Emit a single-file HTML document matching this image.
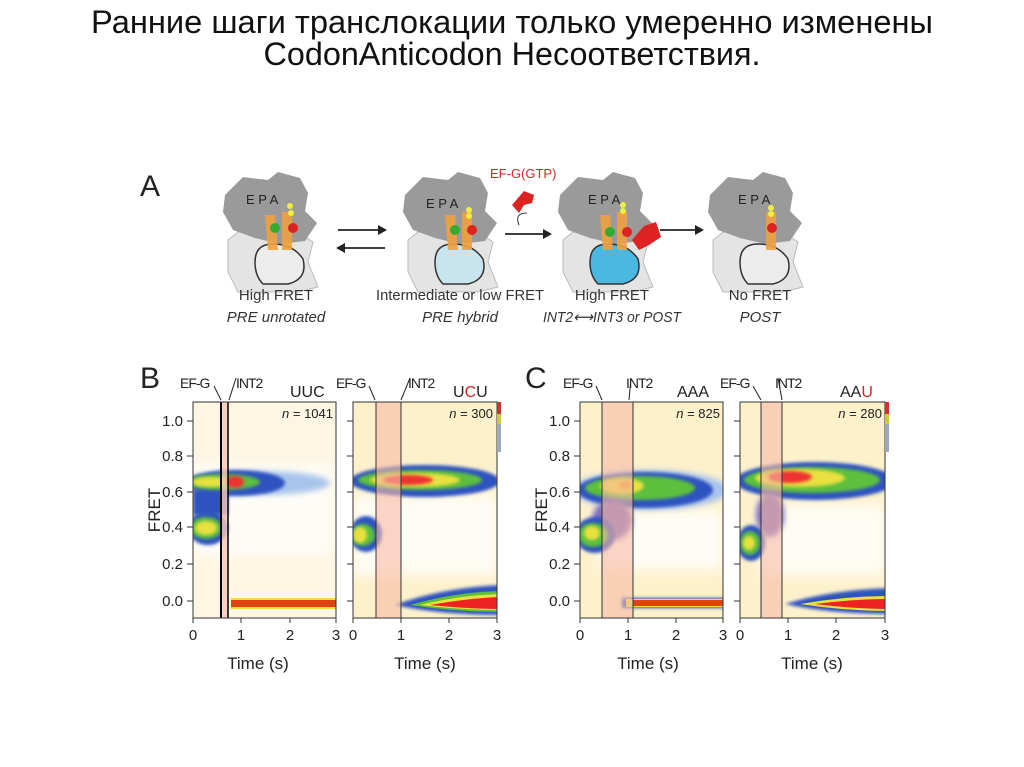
<!DOCTYPE html>
<html><head><meta charset="utf-8"><style>
body{margin:0;background:#fff;width:1024px;height:767px;overflow:hidden;font-family:"Liberation Sans",sans-serif}
</style></head><body>
<svg width="1024" height="767" style="position:absolute;left:0;top:0" font-family="Liberation Sans, sans-serif">
<defs>
<filter id="b" x="-50%" y="-50%" width="200%" height="200%"><feGaussianBlur stdDeviation="3"/></filter>
<filter id="b2" x="-50%" y="-50%" width="200%" height="200%"><feGaussianBlur stdDeviation="1.5"/></filter>
<filter id="b3" x="-50%" y="-50%" width="200%" height="200%"><feGaussianBlur stdDeviation="6"/></filter>
<clipPath id="c1"><rect x="193" y="402" width="143" height="216"/></clipPath>
<clipPath id="c2"><rect x="353" y="402" width="144" height="216"/></clipPath>
<clipPath id="c3"><rect x="580" y="402" width="143" height="216"/></clipPath>
<clipPath id="c4"><rect x="740" y="402" width="145" height="216"/></clipPath>
</defs>
<text x="512" y="33" font-size="32" fill="#111" text-anchor="middle" textLength="842" lengthAdjust="spacingAndGlyphs">Ранние шаги транслокации только умеренно изменены</text>
<text x="512" y="65" font-size="32" fill="#111" text-anchor="middle" textLength="497" lengthAdjust="spacingAndGlyphs">CodonAnticodon Несоответствия.</text>

<text x="140" y="196" font-size="30" fill="#222">A</text>
<g fill="#e4e4e4" stroke="#bbb">
<path d="M228 240 l10 -8 60 0 15 10 -5 20 10 25 -20 5 -60 0 -10 -20z"/>
<path d="M408 240 l10 -8 60 0 15 10 -5 20 10 25 -20 5 -60 0 -10 -20z"/>
<path d="M563 240 l10 -8 60 0 15 10 -5 20 10 25 -20 5 -60 0 -10 -20z"/>
<path d="M713 240 l10 -8 60 0 15 10 -5 20 10 25 -20 5 -60 0 -10 -20z"/>
</g>
<g fill="#9a9a9a">
<path d="M225 195 l18 -18 25 3 10 -8 22 6 8 15 -3 18 12 12 -12 18 -25 3 -25 -6 -22 -8 -10 -18z"/>
<path d="M405 195 l18 -18 25 3 10 -8 22 6 8 15 -3 18 12 12 -12 18 -25 3 -25 -6 -22 -8 -10 -18z"/>
<path d="M560 195 l18 -18 25 3 10 -8 22 6 8 15 -3 18 12 12 -12 18 -25 3 -25 -6 -22 -8 -10 -18z"/>
<path d="M710 195 l18 -18 25 3 10 -8 22 6 8 15 -3 18 12 12 -12 18 -25 3 -25 -6 -22 -8 -10 -18z"/>
</g>
<g stroke="#333" stroke-width="1.5">
<path d="M255 262 q0 -18 18 -18 q20 0 30 15 q5 20 -15 25 l-25 0 q-8 -8 -8 -22z" fill="#ececec"/>
<path d="M435 262 q0 -18 18 -18 q20 0 30 15 q5 20 -15 25 l-25 0 q-8 -8 -8 -22z" fill="#c8e4ee"/>
<path d="M590 262 q0 -18 18 -18 q20 0 30 15 q5 20 -15 25 l-25 0 q-8 -8 -8 -22z" fill="#4ab8e0"/>
<path d="M740 262 q0 -18 18 -18 q20 0 30 15 q5 20 -15 25 l-25 0 q-8 -8 -8 -22z" fill="#ececec"/>
</g>
<g fill="#f0a040" opacity=".9"><path d="M265 215 l10 0 3 35 -10 0z"/><path d="M282 212 l10 0 0 38 -10 0z"/><path d="M445 215 l10 0 3 35 -10 0z"/><path d="M462 212 l10 0 0 38 -10 0z"/><path d="M600 215 l10 0 3 35 -10 0z"/><path d="M617 212 l10 0 0 38 -10 0z"/><path d="M766 212 l10 0 0 38 -10 0z"/></g>
<g fill="#3a3"><circle cx="275" cy="228" r="5"/><circle cx="455" cy="230" r="5"/><circle cx="610" cy="232" r="5"/></g>
<g fill="#d22"><circle cx="293" cy="228" r="5"/><circle cx="472" cy="230" r="5"/><circle cx="627" cy="232" r="5"/><circle cx="772" cy="228" r="5"/><path d="M632 240 l12 -14 12 -4 5 15 -12 8 -10 5z"/><path d="M512 205 l12 -14 10 4 -2 8 -8 2 -5 8z"/></g>
<g fill="#ee4"><circle cx="290" cy="206" r="3"/><circle cx="291" cy="213" r="3"/><circle cx="469" cy="210" r="3"/><circle cx="469" cy="216" r="3"/><circle cx="623" cy="205" r="3"/><circle cx="623" cy="211" r="3"/><circle cx="771" cy="208" r="3"/><circle cx="771" cy="214" r="3"/></g>
<g font-size="13" fill="#222"><text x="246" y="204">E  P  A</text><text x="426" y="208">E  P  A</text><text x="588" y="204">E  P  A</text><text x="738" y="204">E  P  A</text></g>
<text x="490" y="178" font-size="13" fill="#d22">EF-G(GTP)</text>
<path d="M519 225 q-5 -12 8 -12" fill="none" stroke="#333"/>
<g stroke="#222" stroke-width="1.8"><line x1="338" y1="230" x2="385" y2="230"/><line x1="338" y1="248" x2="385" y2="248"/><line x1="505" y1="234" x2="550" y2="234"/><line x1="660" y1="230" x2="702" y2="230"/></g>
<g fill="#222"><path d="M387 230 l-9 -5 0 10z"/><path d="M336 248 l9 -5 0 10z"/><path d="M552 234 l-9 -5 0 10z"/><path d="M704 230 l-9 -5 0 10z"/></g>
<g font-size="15" fill="#333" text-anchor="middle"><text x="276" y="300">High FRET</text><text x="460" y="300" textLength="168" lengthAdjust="spacingAndGlyphs">Intermediate or low FRET</text><text x="612" y="300">High FRET</text><text x="760" y="300">No FRET</text>
<g font-style="italic"><text x="276" y="322">PRE unrotated</text><text x="460" y="322">PRE hybrid</text><text x="612" y="322" textLength="138" lengthAdjust="spacingAndGlyphs">INT2⟷INT3 or POST</text><text x="760" y="322">POST</text></g></g>
<text x="140" y="388" font-size="30" fill="#222">B</text><text x="525" y="388" font-size="30" fill="#222">C</text>

<!-- B1 -->
<rect x="193" y="402" width="143" height="216" fill="#fdf6e2"/>
<g clip-path="url(#c1)">
<rect x="193" y="465" width="140" height="90" fill="#fff" opacity=".7" filter="url(#b3)"/>
<ellipse cx="260" cy="483" rx="70" ry="12" fill="#a8c4ec" filter="url(#b)"/>
<ellipse cx="235" cy="483" rx="50" ry="13" fill="#2d52c0" filter="url(#b2)"/>
<rect x="193" y="490" width="35" height="25" fill="#2d52c0" filter="url(#b2)"/>
<ellipse cx="222" cy="482" rx="38" ry="8" fill="#5bbf3c" filter="url(#b2)"/>
<ellipse cx="210" cy="482" rx="18" ry="5" fill="#e8e040" filter="url(#b2)"/>
<ellipse cx="235" cy="482" rx="9" ry="6" fill="#e33" filter="url(#b2)"/>
<ellipse cx="208" cy="528" rx="20" ry="17" fill="#2d52c0" filter="url(#b2)"/>
<ellipse cx="206" cy="528" rx="16" ry="11" fill="#5bbf3c" filter="url(#b2)"/>
<ellipse cx="206" cy="528" rx="11" ry="7" fill="#e8e040" filter="url(#b2)"/>
<rect x="231" y="598" width="110" height="11" fill="#e8e040"/><rect x="231" y="600" width="110" height="7" fill="#d41"/>
<rect x="221" y="402" width="7" height="216" fill="#f6c7b8" opacity=".8"/>
</g>
<line x1="221" y1="402" x2="221" y2="618" stroke="#000" stroke-width="2"/><line x1="228" y1="402" x2="228" y2="618" stroke="#000" stroke-width="1.5"/>
<rect x="193" y="402" width="143" height="216" fill="none" stroke="#333"/>

<!-- B2 -->
<rect x="353" y="402" width="144" height="216" fill="#fdf1cc"/>
<g clip-path="url(#c2)">
<rect x="353" y="495" width="144" height="80" fill="#fff" opacity=".8" filter="url(#b3)"/>
<ellipse cx="425" cy="481" rx="75" ry="16" fill="#2d52c0" filter="url(#b2)"/>
<ellipse cx="420" cy="480" rx="62" ry="10" fill="#5bbf3c" filter="url(#b2)"/>
<ellipse cx="415" cy="480" rx="45" ry="7" fill="#e8e040" filter="url(#b2)"/>
<ellipse cx="408" cy="480" rx="25" ry="5" fill="#e33" filter="url(#b2)"/>
<ellipse cx="366" cy="534" rx="16" ry="18" fill="#2d52c0" filter="url(#b2)"/>
<ellipse cx="363" cy="535" rx="12" ry="11" fill="#5bbf3c" filter="url(#b2)"/>
<ellipse cx="360" cy="535" rx="7" ry="8" fill="#e8e040" filter="url(#b2)"/>
<path d="M395 605 Q440 588 500 585 L500 615 Q440 615 395 605z" fill="#2d52c0" filter="url(#b2)"/>
<path d="M410 605 Q455 592 500 591 L500 612 Q455 612 410 605z" fill="#5bbf3c"/>
<path d="M420 605 Q460 595 500 594 L500 610 Q460 610 420 605z" fill="#e8e040"/>
<path d="M430 605 Q470 598 500 597 L500 609 Q470 609 430 605z" fill="#e22"/>
<rect x="376" y="402" width="25" height="216" fill="#f6b9a5" opacity=".6"/>
</g>
<line x1="376" y1="402" x2="376" y2="618" stroke="#333"/><line x1="401" y1="402" x2="401" y2="618" stroke="#333"/>
<rect x="353" y="402" width="144" height="216" fill="none" stroke="#333"/>

<!-- C1 -->
<rect x="580" y="402" width="143" height="216" fill="#fdf1cc"/>
<g clip-path="url(#c3)">
<rect x="600" y="510" width="123" height="60" fill="#fff" opacity=".8" filter="url(#b3)"/>
<ellipse cx="650" cy="490" rx="78" ry="20" fill="#a8c4ec" filter="url(#b)"/>
<ellipse cx="645" cy="490" rx="68" ry="18" fill="#2d52c0" filter="url(#b2)"/>
<ellipse cx="640" cy="488" rx="55" ry="12" fill="#5bbf3c" filter="url(#b2)"/>
<ellipse cx="622" cy="486" rx="22" ry="8" fill="#e8e040" filter="url(#b2)"/>
<ellipse cx="625" cy="485" rx="6" ry="4" fill="#f5a030" filter="url(#b2)"/>
<ellipse cx="612" cy="520" rx="20" ry="20" fill="#7a6cc0" filter="url(#b)"/>
<ellipse cx="595" cy="535" rx="20" ry="18" fill="#2d52c0" filter="url(#b2)"/>
<ellipse cx="593" cy="535" rx="15" ry="12" fill="#5bbf3c" filter="url(#b2)"/>
<ellipse cx="592" cy="533" rx="8" ry="7" fill="#e8e040" filter="url(#b2)"/>
<rect x="622" y="598" width="110" height="10" fill="#2d52c0" filter="url(#b2)"/><rect x="626" y="599" width="110" height="8" fill="#e8e040"/><rect x="633" y="600" width="100" height="6" fill="#d41"/>
<rect x="602" y="402" width="31" height="216" fill="#f6b9a5" opacity=".6"/>
</g>
<line x1="602" y1="402" x2="602" y2="618" stroke="#333"/><line x1="633" y1="402" x2="633" y2="618" stroke="#333"/>
<rect x="580" y="402" width="143" height="216" fill="none" stroke="#333"/>

<!-- C2 -->
<rect x="740" y="402" width="145" height="216" fill="#fdf1cc"/>
<g clip-path="url(#c4)">
<rect x="760" y="505" width="125" height="70" fill="#fff" opacity=".8" filter="url(#b3)"/>
<ellipse cx="815" cy="481" rx="80" ry="19" fill="#2d52c0" filter="url(#b2)"/>
<ellipse cx="812" cy="480" rx="68" ry="13" fill="#5bbf3c" filter="url(#b2)"/>
<ellipse cx="800" cy="478" rx="45" ry="9" fill="#e8e040" filter="url(#b2)"/>
<ellipse cx="790" cy="477" rx="22" ry="6" fill="#e33" filter="url(#b2)"/>
<ellipse cx="770" cy="515" rx="14" ry="22" fill="#7a6cc0" filter="url(#b)"/>
<ellipse cx="751" cy="543" rx="14" ry="18" fill="#2d52c0" filter="url(#b2)"/>
<ellipse cx="750" cy="543" rx="10" ry="12" fill="#5bbf3c" filter="url(#b2)"/>
<ellipse cx="749" cy="543" rx="6" ry="7" fill="#e8e040" filter="url(#b2)"/>
<path d="M785 604 Q830 590 890 588 L890 614 Q830 614 785 604z" fill="#2d52c0" filter="url(#b2)"/>
<path d="M800 604 Q845 596 890 596 L890 611 Q845 611 800 604z" fill="#e8e040"/>
<path d="M815 604 Q855 599 890 599 L890 609 Q855 609 815 604z" fill="#e22"/>
<rect x="761" y="402" width="21" height="216" fill="#f6b9a5" opacity=".6"/>
</g>
<line x1="761" y1="402" x2="761" y2="618" stroke="#333"/><line x1="782" y1="402" x2="782" y2="618" stroke="#333"/>
<rect x="740" y="402" width="145" height="216" fill="none" stroke="#333"/>

<!-- colorbars -->
<g><rect x="497" y="402" width="4" height="50" fill="#9ab"/><rect x="497" y="402" width="4" height="12" fill="#c33"/><rect x="497" y="414" width="4" height="10" fill="#cc3"/>
<rect x="885" y="402" width="4" height="50" fill="#9ab"/><rect x="885" y="402" width="4" height="12" fill="#c33"/><rect x="885" y="414" width="4" height="10" fill="#cc3"/></g>
<g font-size="15" fill="#222" text-anchor="end">
<text x="183" y="426">1.0</text><text x="183" y="461">0.8</text><text x="183" y="497">0.6</text><text x="183" y="532">0.4</text><text x="183" y="569">0.2</text><text x="183" y="606">0.0</text>
<text x="570" y="426">1.0</text><text x="570" y="461">0.8</text><text x="570" y="497">0.6</text><text x="570" y="532">0.4</text><text x="570" y="569">0.2</text><text x="570" y="606">0.0</text>
</g>
<g stroke="#333"><path d="M187 421h6M187 456h6M187 492h6M187 527h6M187 564h6M187 601h6M347 421h6M347 456h6M347 492h6M347 527h6M347 564h6M347 601h6M574 421h6M574 456h6M574 492h6M574 527h6M574 564h6M574 601h6M734 421h6M734 456h6M734 492h6M734 527h6M734 564h6M734 601h6"/>
<path d="M193 618v5M241 618v5M290 618v5M336 618v5M353 618v5M401 618v5M449 618v5M497 618v5M580 618v5M628 618v5M676 618v5M723 618v5M740 618v5M788 618v5M836 618v5M885 618v5"/></g>
<g font-size="15" fill="#222" text-anchor="middle">
<text x="193" y="640">0</text><text x="241" y="640">1</text><text x="290" y="640">2</text><text x="336" y="640">3</text>
<text x="353" y="640">0</text><text x="401" y="640">1</text><text x="449" y="640">2</text><text x="497" y="640">3</text>
<text x="580" y="640">0</text><text x="628" y="640">1</text><text x="676" y="640">2</text><text x="723" y="640">3</text>
<text x="740" y="640">0</text><text x="788" y="640">1</text><text x="836" y="640">2</text><text x="885" y="640">3</text>
</g>
<g font-size="17" fill="#222" text-anchor="middle"><text x="258" y="669">Time (s)</text><text x="425" y="669">Time (s)</text><text x="648" y="669">Time (s)</text><text x="812" y="669">Time (s)</text></g>
<text transform="translate(160 510) rotate(-90)" font-size="17" text-anchor="middle" fill="#222">FRET</text>
<text transform="translate(547 510) rotate(-90)" font-size="17" text-anchor="middle" fill="#222">FRET</text>
<g font-size="14" fill="#222" letter-spacing="-1">
<text x="180" y="388">EF-G</text><text x="236" y="388">INT2</text><text x="336" y="388">EF-G</text><text x="408" y="388">INT2</text>
<text x="563" y="388">EF-G</text><text x="626" y="388">INT2</text><text x="720" y="388">EF-G</text><text x="775" y="388">INT2</text>
</g>
<g stroke="#222" fill="none"><path d="M214 386 l7 14M236 378 l-7 22M369 386 l6 14M410 378 l-9 22M596 386 l6 14M631 378 l-2 22M753 386 l8 14M778 378 l4 22"/></g>
<g font-size="16" fill="#222"><text x="290" y="397">UUC</text><text x="453" y="397">U<tspan fill="#d22">C</tspan>U</text><text x="677" y="397">AAA</text><text x="840" y="397">AA<tspan fill="#d22">U</tspan></text></g>
<g font-size="13" fill="#222" text-anchor="end"><text x="333" y="418"><tspan font-style="italic">n</tspan> = 1041</text><text x="493" y="418"><tspan font-style="italic">n</tspan> = 300</text><text x="720" y="418"><tspan font-style="italic">n</tspan> = 825</text><text x="882" y="418"><tspan font-style="italic">n</tspan> = 280</text></g>
</svg>
</body></html>
